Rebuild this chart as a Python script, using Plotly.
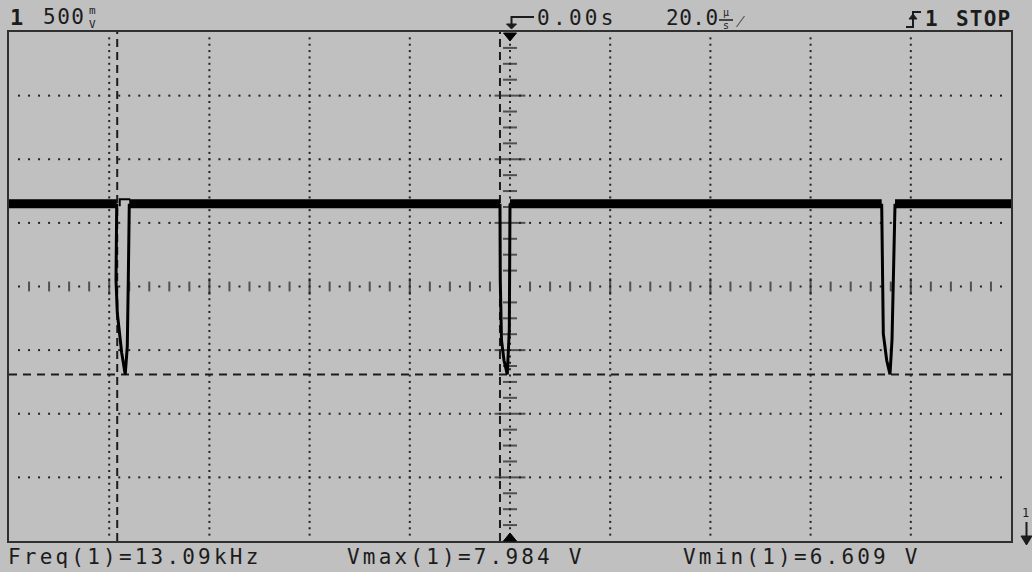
import numpy as np
import plotly.graph_objects as go

# ---- scope settings ----
volts_per_div = 0.5
us_per_div = 20.0
center_volts = 7.30
h_divs, v_divs = 10, 8

# ---- measurement readouts ----
freq_khz = 13.09
vmax_v = 7.984
vmin_v = 6.609

# ---- captured waveform (time in µs, level in V) ----
plateau_t = [-100.0, -78.5, None, -76.0, -2.0, None, 0.0, 74.19, None, 76.85, 100.0]
plateau_v = [7.95, 7.95, None, 7.95, 7.95, None, 7.95, 7.95, None, 7.95, 7.95]

spike_t = [-78.50, -78.64, -78.38, -77.98, -77.51, -76.80, -76.39, -76.19, -75.99, None,
           -2.00, -1.94, -1.70, -1.20, -0.54, -0.14, 0.00, None,
           74.19, 74.35, 74.51, 75.19, 75.85, 76.25, 76.51, 76.85]
spike_v = [7.95, 7.35, 7.09, 6.96, 6.78, 6.609, 6.83, 7.35, 7.95, None,
           7.95, 7.35, 6.88, 6.72, 6.609, 6.96, 7.95, None,
           7.95, 7.14, 6.93, 6.72, 6.609, 6.88, 7.35, 7.95]

# envelope cap drawn over the first spike
cap_t = [-77.9, -77.9, -75.8]
cap_v = [7.93, 7.985, 7.985]

# ---- cursor positions ----
cursor_t = [-78.4, -2.0]
cursor_v = [vmin_v]

# ---- screen geometry ----
W, H = 1032, 572
L, R, T, B = 9, 1011, 32, 541
BG = "#c0c0c0"
INK = "#1c1c1c"
GRID = "#222222"

x_range = [-h_divs / 2 * us_per_div, h_divs / 2 * us_per_div]
y_range = [center_volts - v_divs / 2 * volts_per_div, center_volts + v_divs / 2 * volts_per_div]


def px(x):
    return (x - L) / (R - L)


def py(y):
    return (B - y) / (B - T)


fig = go.Figure()

# ---- graticule: dotted grid lines ----
t_fine = np.linspace(x_range[0], x_range[1], h_divs * 10 + 1)[1:-1]
v_fine = np.linspace(y_range[0], y_range[1], v_divs * 10 + 1)[1:-1]
grid_t = [x_range[0] + i * us_per_div for i in range(1, h_divs) if i != h_divs // 2]
grid_v = [y_range[0] + j * volts_per_div for j in range(1, v_divs) if j != v_divs // 2]

dot_x, dot_y = [], []
for v in grid_v:
    dot_x += list(t_fine)
    dot_y += [v] * len(t_fine)
for t in grid_t:
    dot_x += [t] * len(v_fine)
    dot_y += list(v_fine)

# centre axes: dots between tick marks
center_t = 0.0
for k, t in enumerate(t_fine, start=1):
    if k % 2 == 1:
        dot_x.append(t)
        dot_y.append(center_volts)
for v in v_fine:
    dot_x.append(center_t)
    dot_y.append(v)

fig.add_trace(go.Scatter(x=dot_x, y=dot_y, mode="markers", hoverinfo="skip",
                         marker=dict(symbol="square", size=2, color=GRID, line=dict(width=0))))

# horizontal centre axis: short vertical ticks every 1/5 division
bar_t = [t for k, t in enumerate(t_fine, start=1) if k % 2 == 0 and abs(t) > 1e-9]
bar_size = [12 if abs(t / us_per_div - round(t / us_per_div)) < 1e-9 else 7 for t in bar_t]
fig.add_trace(go.Scatter(x=bar_t, y=[center_volts] * len(bar_t), mode="markers", hoverinfo="skip",
                         marker=dict(symbol="line-ns", size=bar_size, line=dict(color=GRID, width=2))))

# vertical centre axis: short horizontal ticks every 1/4 division
tick_v = [y_range[0] + j * volts_per_div / 4 for j in range(1, v_divs * 4) if j != v_divs * 2]
tick_size = [22 if j % 4 == 0 else 10 for j in range(1, v_divs * 4) if j != v_divs * 2]
fig.add_trace(go.Scatter(x=[center_t] * len(tick_v), y=tick_v, mode="markers", hoverinfo="skip",
                         marker=dict(symbol="line-ew", size=tick_size, line=dict(color=GRID, width=2))))

# ---- waveform ----
fig.add_trace(go.Scatter(x=plateau_t, y=plateau_v, mode="lines", hoverinfo="skip",
                         line=dict(color="#000000", width=9), connectgaps=False))
fig.add_trace(go.Scatter(x=spike_t, y=spike_v, mode="lines", hoverinfo="skip",
                         line=dict(color="#000000", width=3), connectgaps=False))
fig.add_trace(go.Scatter(x=cap_t, y=cap_v, mode="lines", hoverinfo="skip",
                         line=dict(color="#000000", width=2)))

# ---- measurement cursors ----
for t in cursor_t:
    fig.add_shape(type="line", x0=t, x1=t, y0=y_range[0], y1=y_range[1], layer="below",
                  line=dict(color=INK, width=2, dash="8px,5px"))
for v in cursor_v:
    fig.add_shape(type="line", x0=x_range[0], x1=x_range[1], y0=v, y1=v, layer="below",
                  line=dict(color=INK, width=2, dash="8px,6px"))


def path(points, close=False):
    s = "M " + " L ".join(f"{px(x):.5f},{py(y):.5f}" for x, y in points)
    return s + (" Z" if close else "")


# trigger position markers
fig.add_shape(type="path", xref="paper", yref="paper", layer="above",
              path=path([(503.5, 33), (516.5, 33), (510, 41)], True),
              fillcolor="#000", line=dict(color="#000", width=1))
fig.add_shape(type="path", xref="paper", yref="paper", layer="above",
              path=path([(503.5, 541), (516.5, 541), (510, 533)], True),
              fillcolor="#000", line=dict(color="#000", width=1))

# trigger delay hook in the status bar
fig.add_shape(type="path", xref="paper", yref="paper",
              path=path([(534, 17), (511.5, 17), (511.5, 25)]),
              line=dict(color=INK, width=2))
fig.add_shape(type="path", xref="paper", yref="paper",
              path=path([(506.5, 24), (516.5, 24), (511.5, 29)], True),
              fillcolor=INK, line=dict(color=INK, width=1))

# rising-edge trigger symbol
fig.add_shape(type="path", xref="paper", yref="paper",
              path=path([(906, 27), (913, 27), (913, 12), (921, 12)]),
              line=dict(color=INK, width=2))
fig.add_shape(type="path", xref="paper", yref="paper",
              path=path([(909, 19), (917, 19), (913, 14)], True),
              fillcolor=INK, line=dict(color=INK, width=1))

# "mu / s" fraction bar
fig.add_shape(type="line", xref="paper", yref="paper",
              x0=px(719), x1=px(733), y0=py(20), y1=py(20), line=dict(color=INK, width=1.5))

# channel 1 ground marker (off-screen, below)
fig.add_shape(type="line", xref="paper", yref="paper",
              x0=px(1026.5), x1=px(1026.5), y0=py(522), y1=py(538), line=dict(color=INK, width=2))
fig.add_shape(type="path", xref="paper", yref="paper",
              path=path([(1021, 536), (1032, 536), (1026.5, 545)], True),
              fillcolor=INK, line=dict(color=INK, width=1))

MONO = "DejaVu Sans Mono"


def label(text, x, y, size, spacing=0.0, bold=False, xanchor="left"):
    body = f'<span style="letter-spacing:{spacing}px">{text}</span>' if spacing else text
    if bold:
        body = f"<b>{body}</b>"
    fig.add_annotation(xref="paper", yref="paper", x=px(x), y=py(y), text=body,
                       showarrow=False, xanchor=xanchor, yanchor="middle",
                       font=dict(family=MONO, size=size, color=INK))


# status bar
label("1", 8, 18, 22, bold=True)
label("500", 41, 17, 21, spacing=1.5)
label("m<br>V", 87, 17.5, 11)
label("0.00s", 535, 18, 21, spacing=3.3)
label("20.0", 664, 18, 21, spacing=0.5)
label("µ<br>s", 721, 19.5, 10)
label("⁄", 734, 21, 17)
label("1", 923, 19, 21, bold=True)
label("STOP", 954, 19, 21, spacing=1.2, bold=True)

# measurement readouts
label(f"Freq(1)={freq_khz:.2f}kHz", 6, 557, 21, spacing=3.2)
label(f"Vmax(1)={vmax_v:.3f} V", 345, 557, 21, spacing=3.2)
label(f"Vmin(1)={vmin_v:.3f} V", 681, 557, 21, spacing=3.2)
label("1", 1020, 513, 12)

axis_common = dict(showgrid=False, zeroline=False, showticklabels=False, ticks="",
                   showline=True, mirror=True, linecolor="#303030", linewidth=2, fixedrange=True)
fig.update_xaxes(range=x_range, **axis_common)
fig.update_yaxes(range=y_range, **axis_common)

fig.update_layout(
    width=W, height=H,
    margin=dict(l=L, r=W - R, t=T, b=H - B, pad=0),
    paper_bgcolor=BG, plot_bgcolor=BG,
    showlegend=False,
)

fig.write_html("out.html")
